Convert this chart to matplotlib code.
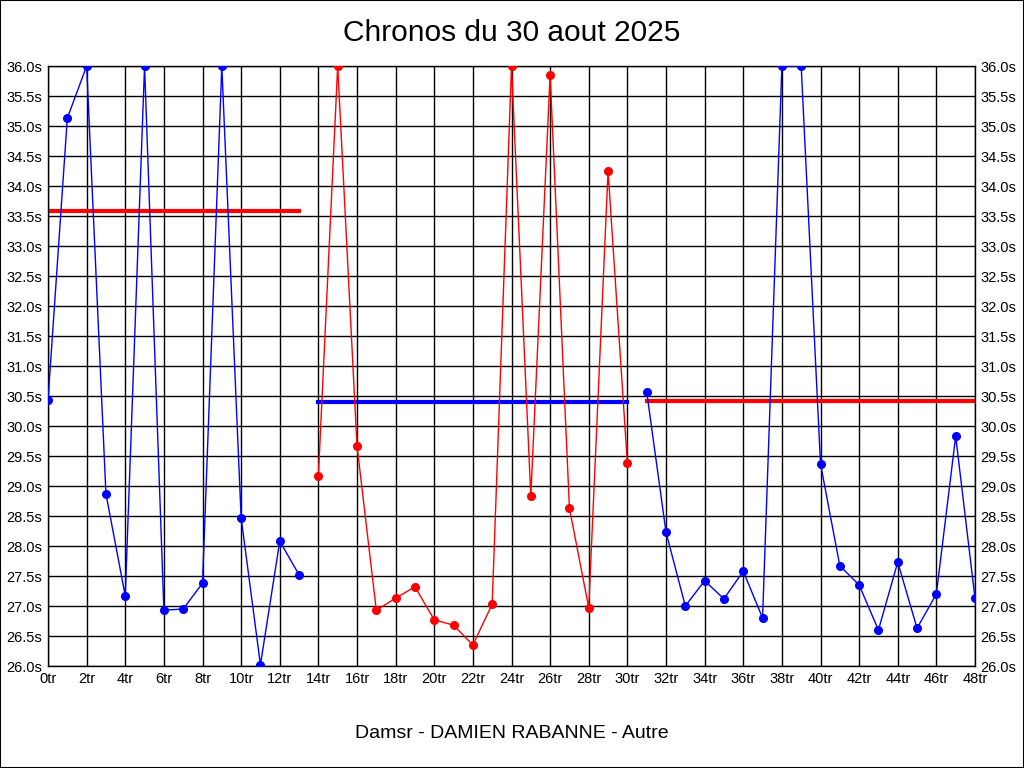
import matplotlib
matplotlib.use('Agg')
import matplotlib.pyplot as plt

plt.rcParams['font.family'] = ['Liberation Sans', 'DejaVu Sans']

# lap times, three runs
laps_1 = list(range(0, 14))
times_1 = [30.43, 35.13, 36.0, 28.87, 27.17, 36.0, 26.93, 26.95, 27.38, 36.0,
           28.47, 26.02, 28.08, 27.52]
laps_2 = list(range(14, 31))
times_2 = [29.17, 36.0, 29.67, 26.93, 27.13, 27.32, 26.77, 26.68, 26.35, 27.03,
           36.0, 28.83, 35.85, 28.63, 26.97, 34.25, 29.38]
laps_3 = list(range(31, 49))
times_3 = [30.57, 28.23, 27.0, 27.42, 27.12, 27.58, 26.8, 36.0, 36.0, 29.37,
           27.67, 27.35, 26.6, 27.73, 26.63, 27.2, 29.83, 27.13]

avg_1 = 33.58
avg_2 = 30.40
avg_3 = 30.42

x_ticks = list(range(0, 49, 2))
x_labels = [f'{t}tr' for t in x_ticks]
y_ticks = [26.0 + 0.5 * i for i in range(21)]
y_labels = [f'{v:.1f}s' for v in y_ticks]

fig = plt.figure(figsize=(10.24, 7.68), dpi=100)
fig.patches.append(plt.Rectangle((0, 0), 1, 1, transform=fig.transFigure,
                                 fill=False, edgecolor='black', linewidth=1.5))
ax = fig.add_axes([48 / 1024, 1 - 666 / 768, 927 / 1024, 600 / 768])

ax.plot(laps_1, times_1, color='blue', lw=1, marker='o', ms=5.5, zorder=3)
ax.plot(laps_2, times_2, color='red', lw=1, marker='o', ms=5.5, zorder=3)
ax.plot(laps_3, times_3, color='blue', lw=1, marker='o', ms=5.5, zorder=3)

ax.plot([laps_1[0], laps_1[-1]], [avg_1, avg_1], color='red', lw=3, zorder=2)
ax.plot([laps_2[0], laps_2[-1]], [avg_2, avg_2], color='blue', lw=3, zorder=2)
ax.plot([laps_3[0], laps_3[-1]], [avg_3, avg_3], color='red', lw=3, zorder=2)

ax.set_xlim(0, 48)
ax.set_ylim(26, 36)
ax.set_xticks(x_ticks)
ax.set_xticklabels(x_labels)
ax.set_yticks(y_ticks)
ax.set_yticklabels(y_labels)
ax.tick_params(axis='both', length=0, labelsize=10.5, colors='black', pad=4)
ax.tick_params(axis='y', right=True, labelright=True)
ax.grid(True, color='black', linewidth=1)
ax.set_axisbelow(True)
for s in ax.spines.values():
    s.set_color('black')
    s.set_linewidth(1)

fig.text(0.5, 1 - 33 / 768, 'Chronos du 30 aout 2025', ha='center', va='center', fontsize=21.5)
fig.text(0.5, 1 - 733 / 768, 'Damsr - DAMIEN RABANNE - Autre', ha='center', va='center', fontsize=14)

fig.savefig('out.png', dpi=100)
